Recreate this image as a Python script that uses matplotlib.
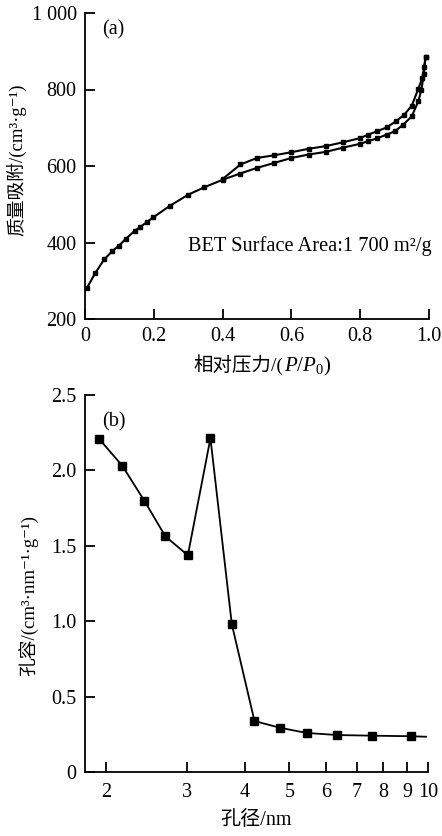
import matplotlib
matplotlib.use('Agg')
import matplotlib.pyplot as plt
from matplotlib.offsetbox import TextArea, HPacker, AnchoredOffsetbox
from matplotlib.ticker import FixedLocator, NullLocator

plt.rcParams['font.family'] = ['Liberation Serif', 'DejaVu Serif', 'Noto Sans CJK SC']
plt.rcParams['mathtext.fontset'] = 'custom'
plt.rcParams['mathtext.rm'] = 'Liberation Serif'
plt.rcParams['mathtext.it'] = 'Liberation Serif:italic'

# N2 isotherm: adsorption branch (lower) and desorption branch (upper)
ads_p = [0.005, 0.029, 0.056, 0.079, 0.099, 0.118, 0.145, 0.16, 0.179, 0.199,
         0.247, 0.30, 0.346, 0.40, 0.45, 0.50, 0.55, 0.60, 0.65, 0.70, 0.75,
         0.80, 0.823, 0.848, 0.877, 0.901, 0.925, 0.95, 0.969, 0.978, 0.985, 0.99]
ads_v = [280, 319, 356, 377, 392, 409, 431, 440, 453, 466,
         496, 525, 544, 564, 580, 595, 608, 621, 630, 637, 648,
         658, 665, 672, 682, 691, 708, 730, 769, 800, 840, 886]
des_p = [0.99, 0.986, 0.981, 0.969, 0.95, 0.928, 0.904, 0.877, 0.85, 0.823,
         0.80, 0.75, 0.70, 0.65, 0.60, 0.55, 0.50, 0.452, 0.40]
des_v = [886, 860, 831, 802, 758, 734, 717, 701, 691, 682,
         673, 662, 652, 645, 636, 628, 621, 604, 566]

# pore size distribution
pore_d = [1.93, 2.17, 2.42, 2.69, 3.01, 3.37, 3.75, 4.20, 4.76, 5.45, 6.36, 7.54, 9.2, 9.9]
pore_v = [2.21, 2.03, 1.80, 1.563, 1.437, 2.213, 0.98, 0.338, 0.294, 0.259, 0.245, 0.241, 0.237, 0.234]

top_yticks = [200, 400, 600, 800, 1000]
top_ylabels = ['200', '400', '600', '800', '1 000']
top_xticks = [0, 0.2, 0.4, 0.6, 0.8, 1.0]
top_xlabels = ['0', '0.2', '0.4', '0.6', '0.8', '1.0']
bot_yticks = [0, 0.5, 1.0, 1.5, 2.0, 2.5]
bot_ylabels = ['0', '0.5', '1.0', '1.5', '2.0', '2.5']
bot_xticks = [2, 3, 4, 5, 6, 7, 8, 9, 10]

fs = 14.5


def style(ax):
    for s in ['top', 'right']:
        ax.spines[s].set_visible(False)
    for s in ['left', 'bottom']:
        ax.spines[s].set_linewidth(1.3)
    ax.tick_params(direction='in', length=7, width=1.3, labelsize=fs)
    ax.tick_params(axis='y', pad=6)
    ax.tick_params(axis='x', pad=6)


fig = plt.figure(figsize=(4.42, 8.36), dpi=100)

ax1 = fig.add_axes([85 / 442, 1 - 319 / 836, 344 / 442, 306 / 836])
style(ax1)
ax1.plot(ads_p, ads_v, '-s', color='black', lw=1.5, ms=3.2)
ax1.plot(des_p, des_v, '-s', color='black', lw=1.5, ms=3.2)
ax1.set_xlim(0, 1.0)
ax1.set_ylim(200, 1000)
ax1.set_xticks(top_xticks)
ax1.set_xticklabels(top_xlabels)
ax1.set_yticks(top_yticks)
ax1.set_yticklabels(top_ylabels)
ax1.set_ylabel('质量吸附/(cm³·g⁻¹)', fontsize=13.5)
ax1.yaxis.set_label_coords(-0.17, 0.52)
ax1.text(0.05, 0.944, '(a)', transform=ax1.transAxes, fontsize=fs, va='center')
ax1.text(0.30, 0.239, 'BET Surface Area:1 700 m²/g', transform=ax1.transAxes,
         fontsize=14.7, va='center')

# x label with italic P/P0
parts = [TextArea('相对压力/(', textprops=dict(fontsize=14)),
         TextArea('$P/P_0$', textprops=dict(fontsize=15)),
         TextArea(')', textprops=dict(fontsize=15))]
box = HPacker(children=parts, align='baseline', pad=0, sep=0)
anchored = AnchoredOffsetbox(loc='center', child=box, frameon=False,
                             bbox_to_anchor=(0.515, -0.152), bbox_transform=ax1.transAxes,
                             borderpad=0, pad=0)
ax1.add_artist(anchored)

ax2 = fig.add_axes([85 / 442, 1 - 772 / 836, 343 / 442, 377 / 836])
style(ax2)
ax2.plot(pore_d, pore_v, '-', color='black', lw=1.3)
ax2.plot(pore_d[:-1], pore_v[:-1], 's', color='black', ms=5.5)
ax2.set_xscale('log')
ax2.set_xlim(1.8, 10)
ax2.set_ylim(0, 2.5)
ax2.xaxis.set_major_locator(FixedLocator(bot_xticks))
ax2.xaxis.set_minor_locator(NullLocator())
ax2.set_xticklabels([str(t) for t in bot_xticks])
ax2.tick_params(axis='x', pad=8)
ax2.set_yticks(bot_yticks)
ax2.set_yticklabels(bot_ylabels)
ax2.set_xlabel('孔径/nm', fontsize=14.5)
ax2.xaxis.set_label_coords(0.5, -0.104)
ax2.set_ylabel('孔容/(cm³·nm⁻¹·g⁻¹)', fontsize=13.5)
ax2.yaxis.set_label_coords(-0.135, 0.467)
ax2.text(0.05, 0.93, '(b)', transform=ax2.transAxes, fontsize=fs, va='center')

fig.savefig('out.png', dpi=100)
